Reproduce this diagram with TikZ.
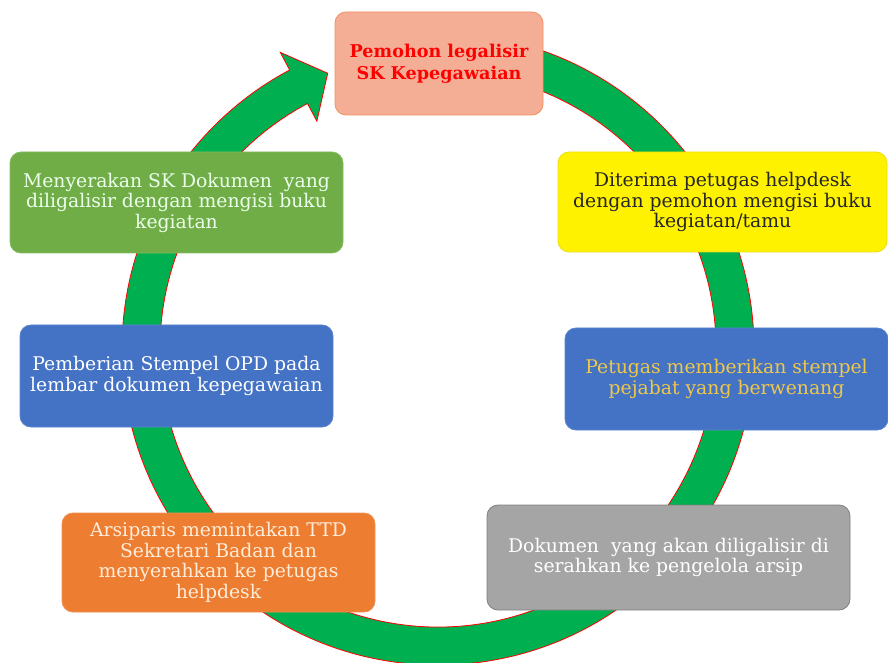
\documentclass[tikz,border=0pt]{standalone}
\usepackage{fontspec}
\setmainfont{DejaVu Serif}
\usetikzlibrary{positioning}
\definecolor{legRing}{HTML}{00B050}
\definecolor{legPeach}{HTML}{F5AE96}
\definecolor{legPeachLine}{HTML}{F0915F}
\definecolor{legGreen}{HTML}{70AD47}
\definecolor{legGreenLine}{HTML}{86BC62}
\definecolor{legBlue}{HTML}{4472C4}
\definecolor{legBlueLine}{HTML}{5A84CE}
\definecolor{legOrange}{HTML}{ED7D31}
\definecolor{legGray}{HTML}{A5A5A5}
\definecolor{legGrayLine}{HTML}{7F7F7F}
\definecolor{legGold}{HTML}{EEC84A}
\tikzset{
  leg box/.style={rounded corners=11pt, line width=0.8pt, align=center,
    inner sep=0pt, text=white, font=\fontsize{18.8}{20.5}\selectfont},
  leg peach/.style={leg box, fill=legPeach, draw=legPeachLine, text=red,
    font=\bfseries\fontsize{17.6}{22}\selectfont},
  leg green/.style={leg box, fill=legGreen, draw=legGreenLine, text=green!8!white},
  leg yellow/.style={leg box, fill=yellow, draw=yellow!90!black, text=black!85},
  leg blue/.style={leg box, fill=legBlue, draw=legBlueLine},
  leg orange/.style={leg box, fill=legOrange, draw=legOrange!85!white, text=orange!15!white},
  leg gray/.style={leg box, fill=legGray, draw=legGrayLine},
  leg ring/.style={fill=legRing, draw=red, line width=0.8pt, line join=miter}
}
\begin{document}
\begin{tikzpicture}[x=1pt,y=1pt]
  \useasboundingbox (0,0) rectangle (888,662);
  \coordinate (C) at (438,313);
  % ring with arrow head
  \draw[leg ring, shift={(C)}] (90:316) arc[start angle=90, end angle=-242, radius=316]
    -- (-242:336) -- (-248.2:297) -- (-242:258) -- (-242:278)
    arc[start angle=-242, end angle=90, radius=278] -- cycle;
  \node[leg peach, minimum width=208, minimum height=103] (pemohon) at (439,598.5) {Pemohon legalisir\\SK Kepegawaian};
  \node[leg yellow, minimum width=329, minimum height=100] (terima) at (722.5,460) {Diterima petugas helpdesk\\dengan pemohon mengisi buku\\kegiatan/tamu};
  \node[leg blue, minimum width=323, minimum height=102, text=legGold] (stempel) at (726.5,283) {Petugas memberikan stempel\\pejabat yang berwenang};
  \node[leg gray, minimum width=363, minimum height=105] (arsip) at (668.5,104.5) {Dokumen\ \ yang akan diligalisir di\\serahkan ke pengelola arsip};
  \node[leg orange, minimum width=313, minimum height=99] (ttd) at (218.5,99.5) {Arsiparis memintakan TTD\\Sekretari Badan dan\\menyerahkan ke petugas\\helpdesk};
  \node[leg blue, minimum width=313, minimum height=102] (opd) at (176.5,286) {Pemberian Stempel OPD pada\\lembar dokumen kepegawaian};
  \node[leg green, minimum width=333, minimum height=101] (serah) at (176.5,459.5) {Menyerakan SK Dokumen\ \ yang\\diligalisir dengan mengisi buku\\kegiatan};
\end{tikzpicture}
\end{document}
